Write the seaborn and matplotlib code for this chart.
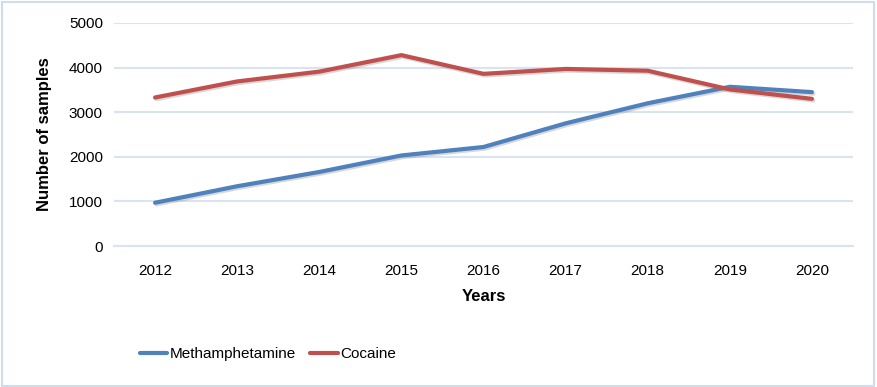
import pandas as pd
import matplotlib.pyplot as plt
import matplotlib.patheffects as pe
from matplotlib.patches import Rectangle
import seaborn as sns

years = [2012, 2013, 2014, 2015, 2016, 2017, 2018, 2019, 2020]
meth = [970, 1340, 1660, 2030, 2220, 2750, 3200, 3570, 3450]
cocaine = [3330, 3690, 3910, 4280, 3860, 3970, 3930, 3510, 3300]

sns.set_style("white")
plt.rcParams['font.family'] = ['Liberation Sans', 'DejaVu Sans']
plt.rcParams['text.color'] = 'black'
plt.rcParams['axes.labelcolor'] = 'black'
plt.rcParams['xtick.labelcolor'] = 'black'
plt.rcParams['ytick.labelcolor'] = 'black'

blue = "#4F81BD"
red = "#C0504D"
grid_col = "#D9E3F1"

df = pd.DataFrame({
    "Years": years * 2,
    "Number of samples": meth + cocaine,
    "Drug": ["Methamphetamine"] * len(years) + ["Cocaine"] * len(years),
})


def main():
    fig = plt.figure(figsize=(8.77, 3.87), dpi=100)
    ax = fig.add_axes([114 / 877, 1 - 246 / 387, (853 - 114) / 877, (246 - 23) / 387])

    shadow = [pe.SimpleLineShadow(offset=(1, -1.2), shadow_color="gray", alpha=0.3), pe.Normal()]
    sns.lineplot(data=df, x="Years", y="Number of samples", hue="Drug",
                 palette=[blue, red], linewidth=3.0, ax=ax, legend=False,
                 path_effects=shadow, solid_capstyle="round")

    ax.set_xlim(2011.5, 2020.5)
    ax.set_ylim(0, 5000)
    ax.set_yticks(range(0, 5001, 1000))
    ax.set_xticks(years)
    ax.set_xticks([y - 0.5 for y in years] + [2020.5], minor=True)
    ax.tick_params(axis="x", which="major", length=0, pad=13, labelsize=11)
    ax.tick_params(axis="x", which="minor", length=5, width=1.5, color=grid_col)
    ax.tick_params(axis="y", length=0, pad=8, labelsize=11)
    ax.yaxis.grid(True, color=grid_col, linewidth=1.5)
    for s in ["top", "right", "left"]:
        ax.spines[s].set_visible(False)
    ax.spines["bottom"].set_color(grid_col)
    ax.spines["bottom"].set_linewidth(1.5)
    ax.set_axisbelow(True)

    ax.set_xlabel("Years", fontsize=12, fontweight="bold", labelpad=8)
    ax.set_ylabel("Number of samples", fontsize=12, fontweight="bold", labelpad=12)

    handles = [plt.Line2D([], [], color=blue, linewidth=3.0),
               plt.Line2D([], [], color=red, linewidth=3.0)]
    fig.legend(handles, ["Methamphetamine", "Cocaine"], loc="center",
               bbox_to_anchor=(268 / 877, 1 - 354 / 387), ncol=2, frameon=False,
               fontsize=11, handlelength=1.8, handletextpad=0.2, columnspacing=0.9)

    fig.patches.append(Rectangle((0.002, 0.003), 0.995, 0.993, transform=fig.transFigure,
                                 fill=False, edgecolor="#D0DCEE", linewidth=1.5))

    fig.savefig("out.png", dpi=100)


if __name__ == "__main__":
    main()
